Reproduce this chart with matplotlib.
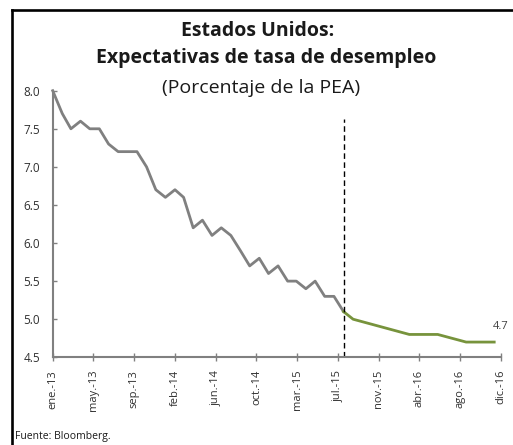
import numpy as np
import matplotlib
matplotlib.use("Agg")
import matplotlib.pyplot as plt
from matplotlib.lines import Line2D
import datetime as dt

plt.rcParams['font.family'] = ['Open Sans', 'DejaVu Sans']

# Historical data (monthly, ene-13 .. ago-15)
hist_start = "2013-01"
hist_values = [8.0, 7.7, 7.5, 7.6, 7.5, 7.5, 7.3, 7.2, 7.2, 7.2, 7.0, 6.7,
               6.6, 6.7, 6.6, 6.2, 6.3, 6.1, 6.2, 6.1, 5.9, 5.7, 5.8, 5.6,
               5.7, 5.5, 5.5, 5.4, 5.5, 5.3, 5.3, 5.1]
# Expectations
fc_dates = ["2015-08-01", "2015-09-01", "2015-12-01", "2016-03-01",
            "2016-06-01", "2016-09-01", "2016-12-01"]
fc_values = [5.1, 5.0, 4.9, 4.8, 4.8, 4.7, 4.7]
last_label = "4.7"

tick_labels = ["ene.-13", "may.-13", "sep.-13", "feb.-14", "jun.-14", "oct.-14",
               "mar.-15", "jul.-15", "nov.-15", "abr.-16", "ago.-16", "dic.-16"]
tick_step_days = 132
axis_start = dt.date(2013, 1, 1)
divider_date = dt.date(2015, 8, 1)

hist_dates = np.arange(np.datetime64(hist_start), np.datetime64(hist_start) + len(hist_values)).astype('datetime64[D]').astype(dt.date)
fc_d = [dt.date.fromisoformat(s) for s in fc_dates]
ticks = [axis_start + dt.timedelta(days=tick_step_days * i) for i in range(len(tick_labels))]

fig = plt.figure(figsize=(5.13, 4.45), dpi=100)
# frame (left and top edges)
fx, fy = 12 / 513, 1 - 10 / 445
fig.lines.append(Line2D([fx, fx], [-0.05, fy], transform=fig.transFigure, color='black', lw=1.9))
fig.lines.append(Line2D([fx, 1.05], [fy, fy], transform=fig.transFigure, color='black', lw=1.9))

ax = fig.add_axes([52.7 / 513, 1 - 357.3 / 445, (501 - 52.7) / 513, (357.3 - 90.7) / 445])
ax.plot(hist_dates, hist_values, color='#808080', lw=2.0, clip_on=False)
ax.plot(fc_d, fc_values, color='#77933c', lw=2.0, clip_on=False)
ax.plot([divider_date, divider_date], [4.5, 7.63], color='black', lw=1.0, ls=(0, (4, 2.5)))
ax.annotate(last_label, (fc_d[-1], fc_values[-1]), xytext=(-1, 7.5), textcoords='offset points',
            fontsize=8, color='#404040', ha='left', va='bottom')

ax.set_xlim(axis_start, ticks[-1])
ax.set_ylim(4.5, 8.0)
yt = np.arange(4.5, 8.01, 0.5)
ax.set_yticks(yt)
ax.set_yticklabels([f"{v:.1f}" for v in yt])
ax.set_xticks(ticks)
ax.set_xticklabels(tick_labels, rotation=90)

for s in ['top', 'right']:
    ax.spines[s].set_visible(False)
for s in ['left', 'bottom']:
    ax.spines[s].set_color('#808080')
    ax.spines[s].set_linewidth(1.5)
ax.tick_params(axis='y', direction='in', length=3, width=1, color='#808080', labelsize=8.5,
               labelcolor='#303030', pad=9)
ax.tick_params(axis='x', direction='inout', length=6, width=1, color='#808080', labelsize=8,
               labelcolor='#303030', pad=6)

fig.text(257.5 / 513, 1 - 31 / 445, "Estados Unidos:", ha='center', va='center', fontsize=14, fontweight='bold', color='#1a1a1a')
fig.text(266.5 / 513, 1 - 58 / 445, "Expectativas de tasa de desempleo", ha='center', va='center', fontsize=14, fontweight='bold', color='#1a1a1a')
fig.text(261 / 513, 1 - 88 / 445, "(Porcentaje de la PEA)", ha='center', va='center', fontsize=14, color='#1a1a1a')
fig.text(15 / 513, 1 - 436 / 445, "Fuente: Bloomberg.", ha='left', va='center', fontsize=7.5, color='#1a1a1a')

fig.savefig("out.png", dpi=100)
